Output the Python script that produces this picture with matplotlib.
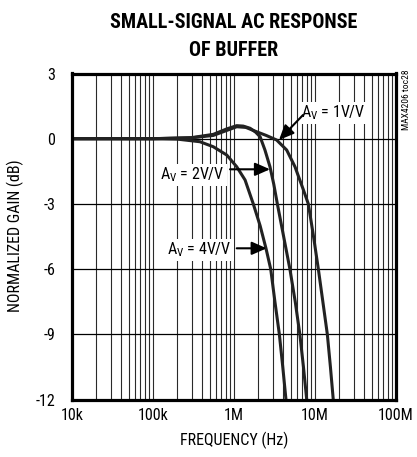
import matplotlib
matplotlib.use("Agg")
import matplotlib.pyplot as plt
from matplotlib import font_manager as fm

# ---- data ----
f_av1 = [1e4, 1e5, 3e5, 5.55e5, 8.13e5, 1.08e6, 1.4e6, 1.9e6, 2.5e6, 3.36e6, 4.47e6,
         5.66e6, 7.2e6, 8.27e6, 9.5e6, 11e6, 12.5e6, 14.2e6, 15.5e6, 16.8e6]
g_av1 = [0.0, 0.0, 0.04, 0.15, 0.38, 0.55, 0.52, 0.32, 0.15, -0.06, -0.52,
         -1.29, -2.36, -3.0, -4.4, -6.0, -7.5, -9.0, -10.5, -12.0]

f_av2 = [1e4, 1e5, 3e5, 5.55e5, 8.13e5, 1.08e6, 1.3e6, 1.58e6, 1.85e6, 2.1e6, 2.41e6,
         2.78e6, 3.1e6, 3.43e6, 4.1e6, 4.9e6, 5.7e6, 6.5e6, 7.2e6, 7.9e6]
g_av2 = [0.0, 0.0, 0.05, 0.2, 0.45, 0.6, 0.58, 0.48, 0.3, 0.09, -0.52,
         -1.29, -2.1, -3.0, -4.5, -6.0, -7.5, -9.0, -10.5, -12.0]

f_av4 = [1e4, 1e5, 2e5, 3.8e5, 5.55e5, 8.13e5, 1.08e6, 1.37e6, 1.73e6, 2.1e6, 2.48e6,
         2.84e6, 3.2e6, 3.63e6, 4.0e6, 4.38e6]
g_av4 = [0.0, 0.0, -0.02, -0.14, -0.37, -0.75, -1.29, -1.9, -3.0, -4.0, -5.04,
         -6.0, -7.5, -9.0, -10.5, -12.0]

x_ticks = [1e4, 1e5, 1e6, 1e7, 1e8]
x_labels = ["10k", "100k", "1M", "10M", "100M"]
y_ticks = [3, 0, -3, -6, -9, -12]
y_labels = ["3", "0", "-3", "-6", "-9", "-12"]

# ---- font choice: prefer a condensed sans ----
names = {f.name for f in fm.fontManager.ttflist}
cond = [n for n in ["Liberation Sans Narrow", "Roboto Condensed", "Open Sans Condensed",
                    "DejaVu Sans Condensed", "Noto Sans Condensed"] if n in names]
STRETCH = "normal"
if cond:
    MAIN = cond[0]
elif any(f.name == "DejaVu Sans" and f.stretch == "condensed" for f in fm.fontManager.ttflist):
    MAIN = "DejaVu Sans"
    STRETCH = "condensed"
elif "Roboto" in names:
    MAIN = "Roboto"
else:
    MAIN = "Liberation Sans"
FONT = [MAIN, "DejaVu Sans"]
plt.rcParams["font.family"] = FONT
plt.rcParams["font.stretch"] = STRETCH
plt.rcParams["mathtext.fontset"] = "custom"
plt.rcParams["mathtext.rm"] = MAIN
plt.rcParams["mathtext.it"] = MAIN

fig = plt.figure(figsize=(4.17, 4.57), dpi=100)
ax = fig.add_axes([72 / 417, 1 - 399.5 / 457, 324 / 417, 326 / 457])
renderer = fig.canvas.get_renderer()


def fit_size(text, target_px, base=10.0, weight="normal", maxsize=None):
    t = fig.text(0, 0, text, fontsize=base, fontweight=weight)
    w = t.get_window_extent(renderer=renderer).width
    t.remove()
    s = 1.1 * base * target_px / w
    if maxsize is not None:
        s = min(s, maxsize)
    return s


title_fs = fit_size("SMALL-SIGNAL AC RESPONSE", 248, weight="bold", maxsize=14.5)
tick_fs = fit_size("100M", 35, maxsize=11.5)
label_fs = fit_size("FREQUENCY (Hz)", 112, maxsize=11.5)
ann_fs = fit_size(r"A$_{\mathrm{V}}$ = 2V/V", 69, maxsize=11.5)
side_fs = fit_size("MAX4206 toc28", 54, maxsize=7)

ax.set_xscale("log")
ax.set_xlim(1e4, 1e8)
ax.set_ylim(-12, 3)

# grid
for dec in [1e4, 1e5, 1e6, 1e7]:
    for m in range(1, 10):
        v = dec * m
        if v > 1e4:
            ax.axvline(v, color="#2a2a2a", lw=0.8, zorder=1)
for yv in [0, -3, -6, -9]:
    ax.axhline(yv, color="black", lw=0.9, zorder=1)

for f, g in [(f_av1, g_av1), (f_av2, g_av2), (f_av4, g_av4)]:
    ax.plot(f, g, color="#222222", lw=2.2, zorder=3, solid_capstyle="butt",
            solid_joinstyle="round")

ax.set_xticks(x_ticks)
ax.set_xticklabels(x_labels)
ax.set_yticks(y_ticks)
ax.set_yticklabels(y_labels)
ax.minorticks_off()
ax.tick_params(length=0, labelsize=tick_fs)
ax.tick_params(axis="x", pad=6)
ax.tick_params(axis="y", pad=12)
for s in ax.spines.values():
    s.set_linewidth(2.3)
    s.set_color("black")
    s.set_zorder(5)

fig.text(234 / 417, 1 - 440 / 457, "FREQUENCY (Hz)", ha="center", va="center",
         fontsize=label_fs)
fig.text(15 / 417, 1 - 236 / 457, "NORMALIZED GAIN (dB)", ha="center", va="center",
         rotation=90, fontsize=label_fs)

fig.text(234 / 417, 1 - 23 / 457, "SMALL-SIGNAL AC RESPONSE", ha="center", va="center",
         fontsize=title_fs, fontweight="bold")
fig.text(234 / 417, 1 - 50 / 457, "OF BUFFER", ha="center", va="center",
         fontsize=title_fs, fontweight="bold")
fig.text(406.5 / 417, 1 - 100 / 457, "MAX4206 toc28", rotation=90, ha="center", va="center",
         fontsize=side_fs)


def fx(px):
    return (px - 72) / 324


def fy(py):
    return (399.5 - py) / 326


bbox = dict(facecolor="white", edgecolor="none", pad=1.5)
arrow = dict(arrowstyle="-|>,head_length=0.5,head_width=0.22", mutation_scale=18, lw=1.5,
             color="black", shrinkA=0, shrinkB=0)

ax.text(fx(333), fy(113), r"A$_{\mathrm{V}}$ = 1V/V", transform=ax.transAxes,
        ha="center", va="center", fontsize=ann_fs, bbox=bbox, zorder=4)
ax.annotate("", xy=(fx(279), fy(140)), xytext=(fx(303), fy(115)),
            xycoords="axes fraction", textcoords="axes fraction", arrowprops=arrow, zorder=4)

ax.text(fx(192.5), fy(175), r"A$_{\mathrm{V}}$ = 2V/V", transform=ax.transAxes,
        ha="center", va="center", fontsize=ann_fs, bbox=bbox, zorder=4)
ax.annotate("", xy=(fx(270), fy(169.3)), xytext=(fx(230), fy(169.3)),
            xycoords="axes fraction", textcoords="axes fraction", arrowprops=arrow, zorder=4)

ax.text(fx(199.5), fy(250), r"A$_{\mathrm{V}}$ = 4V/V", transform=ax.transAxes,
        ha="center", va="center", fontsize=ann_fs, bbox=bbox, zorder=4)
ax.annotate("", xy=(fx(266.7), fy(248.3)), xytext=(fx(236.7), fy(248.3)),
            xycoords="axes fraction", textcoords="axes fraction", arrowprops=arrow, zorder=4)

fig.savefig("out.png", dpi=100)
